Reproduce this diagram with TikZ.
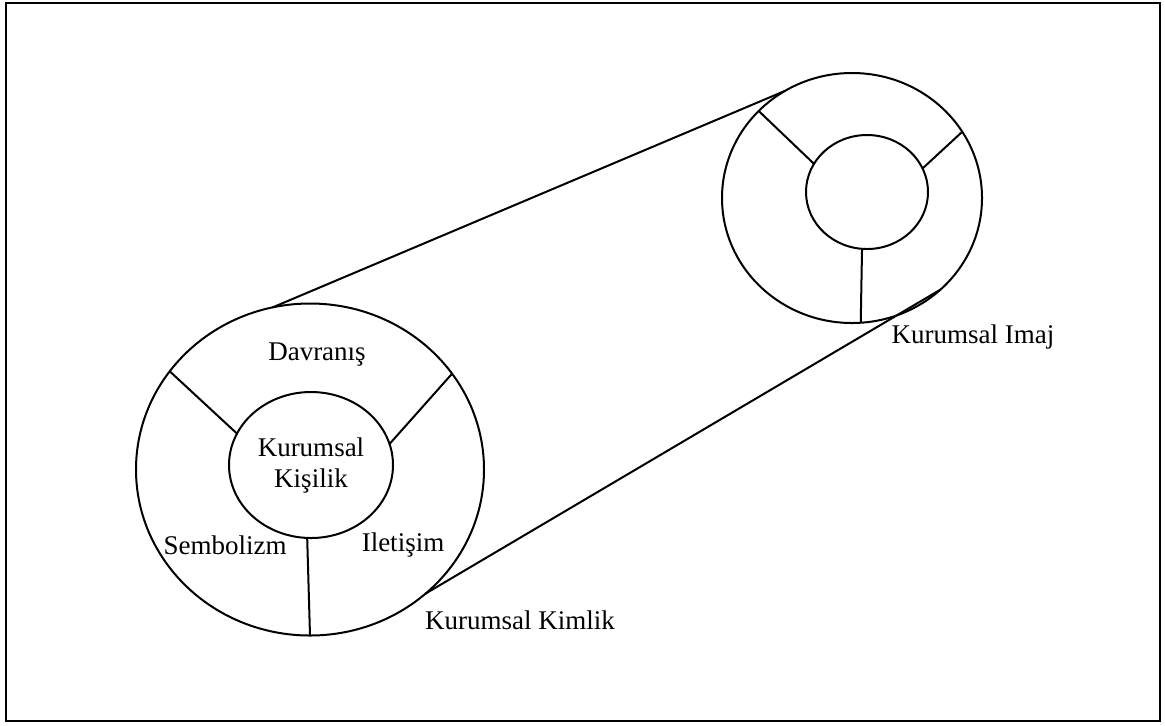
\documentclass[tikz,border=0pt]{standalone}
\usepackage{fontspec}
\setmainfont{Liberation Serif}
\usetikzlibrary{shapes.geometric,positioning}

\begin{document}
\begin{tikzpicture}[x=0.5pt,y=-0.5pt,line width=1pt,
  ring/.style={draw,ellipse,inner sep=0pt,outer sep=0pt},
  lbl/.style={font=\fontsize{13.5}{15.5}\selectfont,inner sep=0pt,align=center}]
\useasboundingbox (0,0) rectangle (1165,725);
\draw[line width=1.3pt] (6,3) rectangle (1160,721);

% kurumsal kimlik
\node[ring,minimum width=174pt,minimum height=166pt] (kimlik) at (310,469.5) {};
\node[ring,minimum width=82pt,minimum height=73pt,lbl] (kisilik) at (311,465) {Kurumsal\\Kişilik};
\draw (kimlik.145) -- (kisilik.157);
\draw (kimlik.34.4) -- (kisilik.15.6);
\draw (kisilik.267) -- (kimlik.270.7);

% kurumsal imaj
\node[ring,minimum width=130pt,minimum height=125pt] (imaj) at (852,198) {};
\node[ring,minimum width=61pt,minimum height=57pt] (imajic) at (867,192) {};
\draw (imaj.137.2) -- (imajic.152.6);
\draw (imaj.31.2) -- (imajic.23.6);
\draw (imajic.265) -- (imaj.274.6);

% cylinder lines
\draw (kimlik.103.7) -- (imaj.122);
\draw (kimlik.313.7) -- (imaj.314.7);

\node[lbl] (davranis) at (317,355) {Davranış};
\node[lbl] (sembolizm) at (225,545) {Sembolizm};
\node[lbl] (iletisim) at (403,545) {Iletişim};
\node[lbl] (kimliklbl) at (520,620) {Kurumsal Kimlik};
\node[lbl] (imajlbl) at (973,337) {Kurumsal Imaj};
\end{tikzpicture}
\end{document}
